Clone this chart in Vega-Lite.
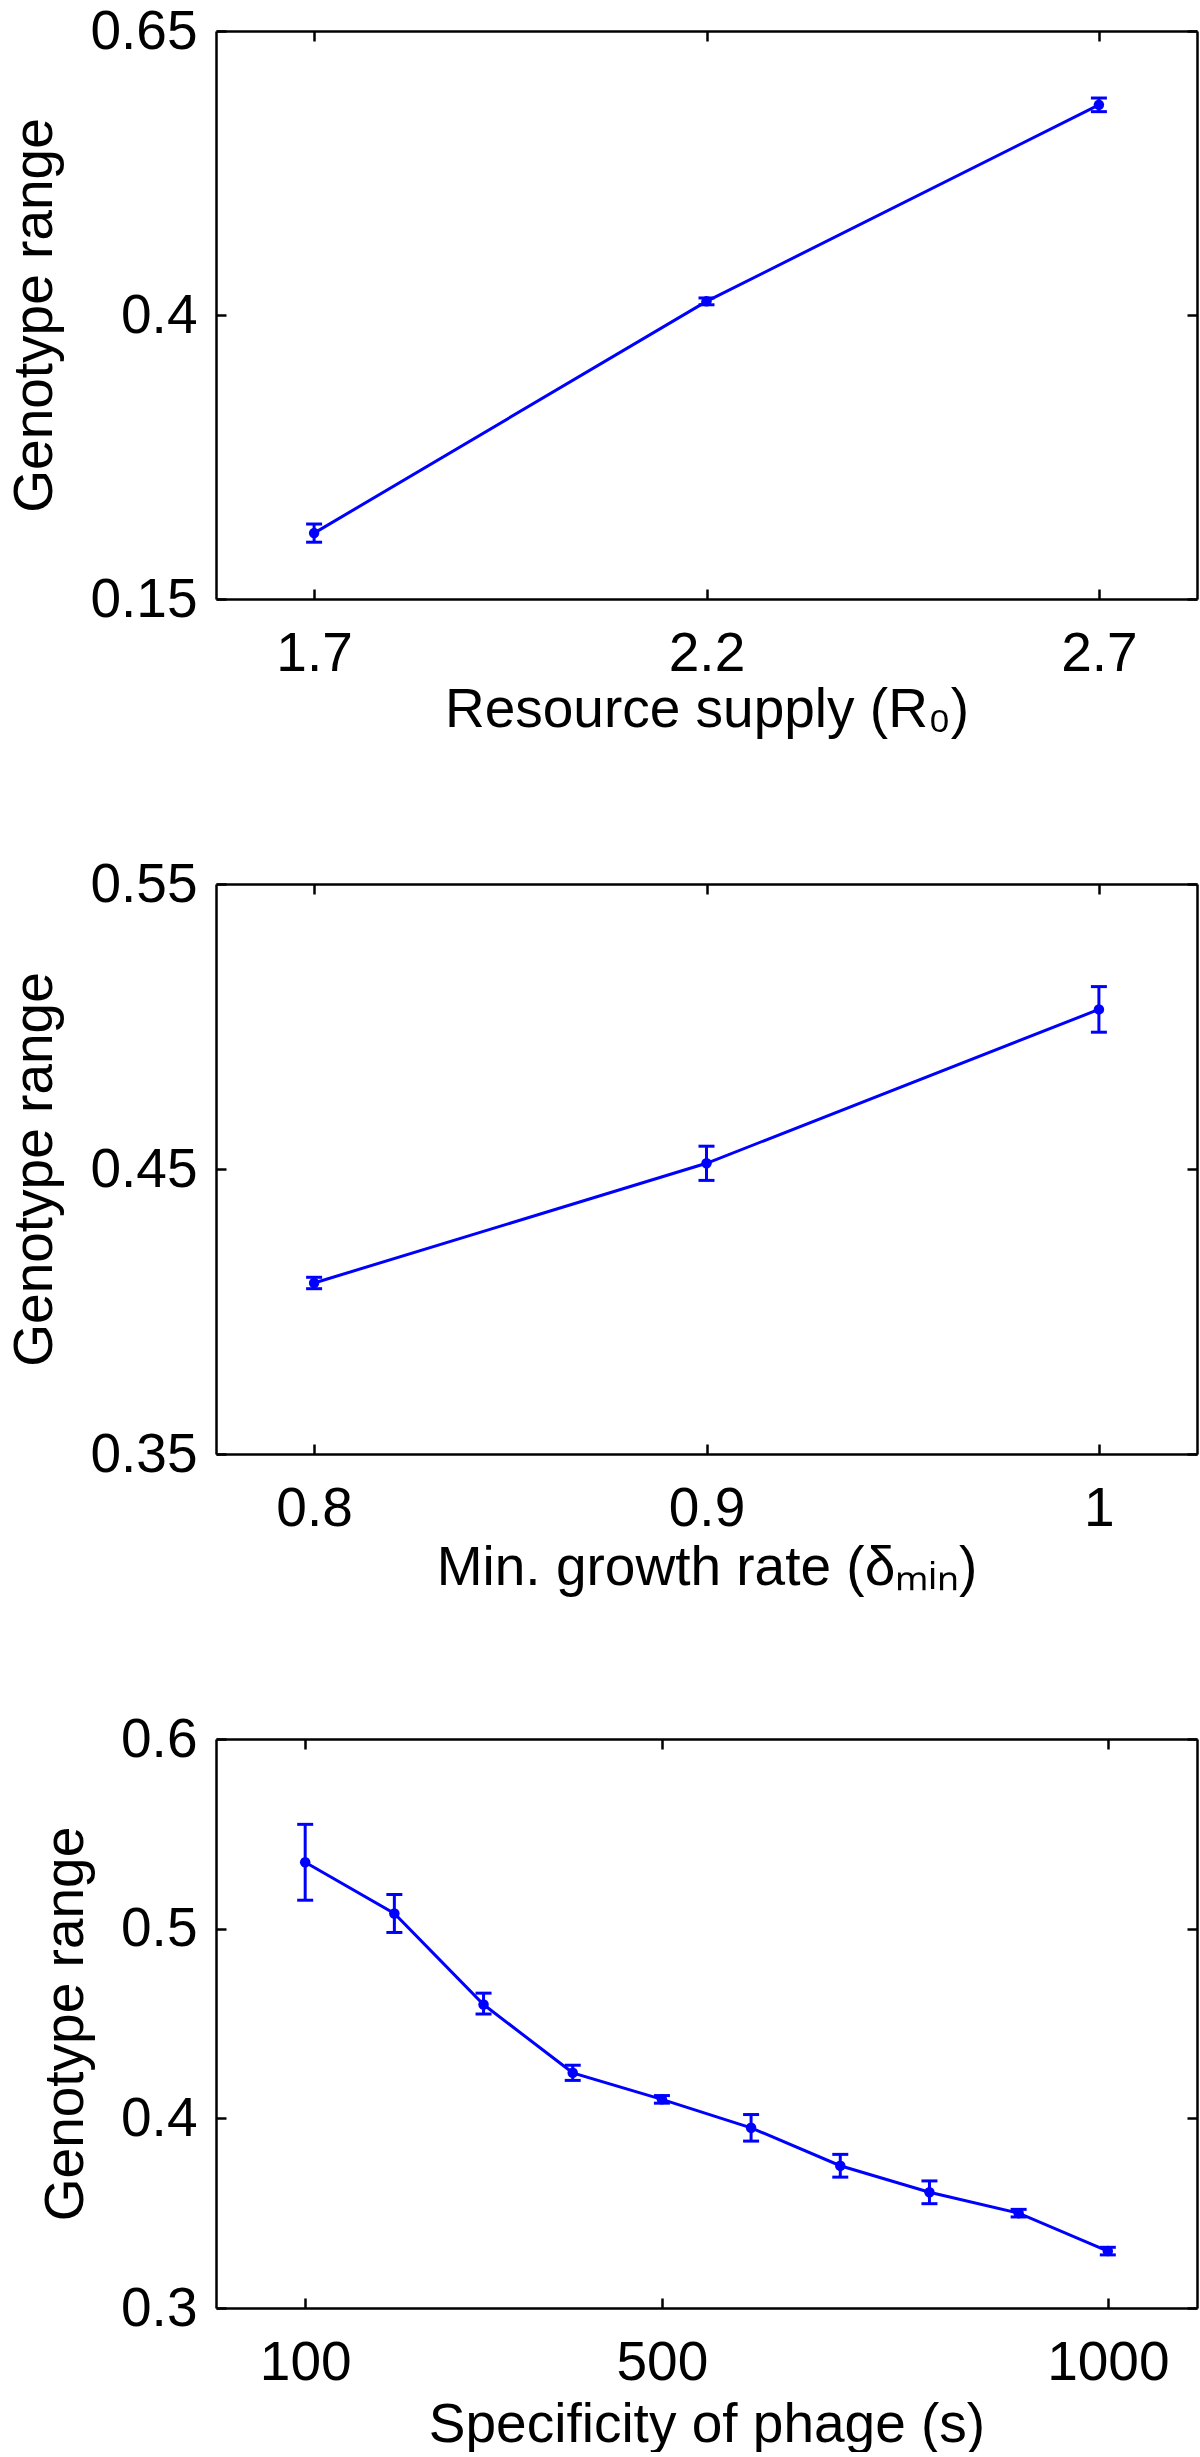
{
  "$schema": "https://vega.github.io/schema/vega-lite/v6.json",
  "padding": {"left": 7, "top": 4, "right": 5, "bottom": 0},
  "background": "white",
  "spacing": 285,
  "bounds": "flush",
  "config": {
    "view": {"stroke": null},
    "font": "Liberation Sans",
    "axis": {
      "grid": false, "domainColor": "black", "domainWidth": 2.5, "tickColor": "black", "tickWidth": 2.5, "tickSize": -10,
      "labelFont": "Liberation Sans", "labelFontSize": 55, "labelColor": "black", "labelFlush": false, "labelOverlap": false,
      "labelExpr": "'' + datum.value",
      "titleFont": "Liberation Sans", "titleFontSize": 55, "titleFontWeight": "normal", "titleColor": "black"
    },
    "axisX": {"labelPadding": 38, "titlePadding": 8},
    "axisY": {"labelPadding": 29, "titlePadding": 26}
  },
  "datasets": {
    "r0": [
      {"x": 1.7, "y": 0.208, "lo": 0.200, "hi": 0.216},
      {"x": 2.2, "y": 0.412, "lo": 0.409, "hi": 0.415},
      {"x": 2.7, "y": 0.585, "lo": 0.579, "hi": 0.591}
    ],
    "dmin": [
      {"x": 0.8, "y": 0.410, "lo": 0.408, "hi": 0.412},
      {"x": 0.9, "y": 0.452, "lo": 0.446, "hi": 0.458},
      {"x": 1.0, "y": 0.506, "lo": 0.498, "hi": 0.514}
    ],
    "spec": [
      {"x": 100, "y": 0.535, "lo": 0.515, "hi": 0.555},
      {"x": 200, "y": 0.508, "lo": 0.498, "hi": 0.518},
      {"x": 300, "y": 0.460, "lo": 0.455, "hi": 0.466},
      {"x": 400, "y": 0.424, "lo": 0.420, "hi": 0.428},
      {"x": 500, "y": 0.410, "lo": 0.408, "hi": 0.412},
      {"x": 600, "y": 0.395, "lo": 0.388, "hi": 0.402},
      {"x": 700, "y": 0.375, "lo": 0.369, "hi": 0.381},
      {"x": 800, "y": 0.361, "lo": 0.355, "hi": 0.367},
      {"x": 900, "y": 0.350, "lo": 0.348, "hi": 0.352},
      {"x": 1000, "y": 0.330, "lo": 0.328, "hi": 0.332}
    ]
  },
  "vconcat": [
    {
      "width": 981, "height": 568,
      "data": {"name": "r0"},
      "resolve": {"axis": {"x": "independent", "y": "independent"}},
      "layer": [
        {"mark": {"type": "line", "color": "#0000ff", "strokeWidth": 3},
         "encoding": {
           "x": {"field": "x", "type": "quantitative", "scale": {"domain": [1.575, 2.825], "nice": false, "zero": false}, "axis": {"values": [1.7, 2.2, 2.7], "title": "Resource supply (R₀)", "titlePadding": 2}},
           "y": {"field": "y", "type": "quantitative", "scale": {"domain": [0.15, 0.65], "nice": false, "zero": false}, "axis": {"values": [0.15, 0.4, 0.65], "title": "Genotype range"}}
         }},
        {"mark": {"type": "point", "filled": true, "color": "#0000ff", "size": 110, "opacity": 1},
         "encoding": {
           "x": {"field": "x", "type": "quantitative", "axis": {"orient": "top", "values": [1.7, 2.2, 2.7], "labels": false, "title": null}},
           "y": {"field": "y", "type": "quantitative", "axis": {"orient": "right", "values": [0.15, 0.4, 0.65], "labels": false, "title": null}}
         }},
        {"mark": {"type": "rule", "color": "#0000ff", "strokeWidth": 3},
         "encoding": {"x": {"field": "x", "type": "quantitative", "axis": null}, "y": {"field": "lo", "type": "quantitative", "axis": null}, "y2": {"field": "hi"}}},
        {"mark": {"type": "tick", "orient": "horizontal", "color": "#0000ff", "size": 16, "thickness": 3, "opacity": 1},
         "encoding": {"x": {"field": "x", "type": "quantitative", "axis": null}, "y": {"field": "lo", "type": "quantitative", "axis": null}}},
        {"mark": {"type": "tick", "orient": "horizontal", "color": "#0000ff", "size": 16, "thickness": 3, "opacity": 1},
         "encoding": {"x": {"field": "x", "type": "quantitative", "axis": null}, "y": {"field": "hi", "type": "quantitative", "axis": null}}}
      ]
    },
    {
      "width": 981, "height": 570,
      "data": {"name": "dmin"},
      "resolve": {"axis": {"x": "independent", "y": "independent"}},
      "layer": [
        {"mark": {"type": "line", "color": "#0000ff", "strokeWidth": 3},
         "encoding": {
           "x": {"field": "x", "type": "quantitative", "scale": {"domain": [0.775, 1.025], "nice": false, "zero": false}, "axis": {"values": [0.8, 0.9, 1], "title": "Min. growth rate (δₘᵢₙ)", "titlePadding": 5}},
           "y": {"field": "y", "type": "quantitative", "scale": {"domain": [0.35, 0.55], "nice": false, "zero": false}, "axis": {"values": [0.35, 0.45, 0.55], "title": "Genotype range"}}
         }},
        {"mark": {"type": "point", "filled": true, "color": "#0000ff", "size": 110, "opacity": 1},
         "encoding": {
           "x": {"field": "x", "type": "quantitative", "axis": {"orient": "top", "values": [0.8, 0.9, 1], "labels": false, "title": null}},
           "y": {"field": "y", "type": "quantitative", "axis": {"orient": "right", "values": [0.35, 0.45, 0.55], "labels": false, "title": null}}
         }},
        {"mark": {"type": "rule", "color": "#0000ff", "strokeWidth": 3},
         "encoding": {"x": {"field": "x", "type": "quantitative", "axis": null}, "y": {"field": "lo", "type": "quantitative", "axis": null}, "y2": {"field": "hi"}}},
        {"mark": {"type": "tick", "orient": "horizontal", "color": "#0000ff", "size": 16, "thickness": 3, "opacity": 1},
         "encoding": {"x": {"field": "x", "type": "quantitative", "axis": null}, "y": {"field": "lo", "type": "quantitative", "axis": null}}},
        {"mark": {"type": "tick", "orient": "horizontal", "color": "#0000ff", "size": 16, "thickness": 3, "opacity": 1},
         "encoding": {"x": {"field": "x", "type": "quantitative", "axis": null}, "y": {"field": "hi", "type": "quantitative", "axis": null}}}
      ]
    },
    {
      "width": 981, "height": 569,
      "data": {"name": "spec"},
      "resolve": {"axis": {"x": "independent", "y": "independent"}},
      "layer": [
        {"mark": {"type": "line", "color": "#0000ff", "strokeWidth": 3},
         "encoding": {
           "x": {"field": "x", "type": "quantitative", "scale": {"domain": [0, 1100], "nice": false, "zero": false}, "axis": {"values": [100, 500, 1000], "title": "Specificity of phage (s)"}},
           "y": {"field": "y", "type": "quantitative", "scale": {"domain": [0.3, 0.6], "nice": false, "zero": false}, "axis": {"values": [0.3, 0.4, 0.5, 0.6], "title": "Genotype range"}}
         }},
        {"mark": {"type": "point", "filled": true, "color": "#0000ff", "size": 110, "opacity": 1},
         "encoding": {
           "x": {"field": "x", "type": "quantitative", "axis": {"orient": "top", "values": [100, 500, 1000], "labels": false, "title": null}},
           "y": {"field": "y", "type": "quantitative", "axis": {"orient": "right", "values": [0.3, 0.4, 0.5, 0.6], "labels": false, "title": null}}
         }},
        {"mark": {"type": "rule", "color": "#0000ff", "strokeWidth": 3},
         "encoding": {"x": {"field": "x", "type": "quantitative", "axis": null}, "y": {"field": "lo", "type": "quantitative", "axis": null}, "y2": {"field": "hi"}}},
        {"mark": {"type": "tick", "orient": "horizontal", "color": "#0000ff", "size": 16, "thickness": 3, "opacity": 1},
         "encoding": {"x": {"field": "x", "type": "quantitative", "axis": null}, "y": {"field": "lo", "type": "quantitative", "axis": null}}},
        {"mark": {"type": "tick", "orient": "horizontal", "color": "#0000ff", "size": 16, "thickness": 3, "opacity": 1},
         "encoding": {"x": {"field": "x", "type": "quantitative", "axis": null}, "y": {"field": "hi", "type": "quantitative", "axis": null}}}
      ]
    }
  ]
}
